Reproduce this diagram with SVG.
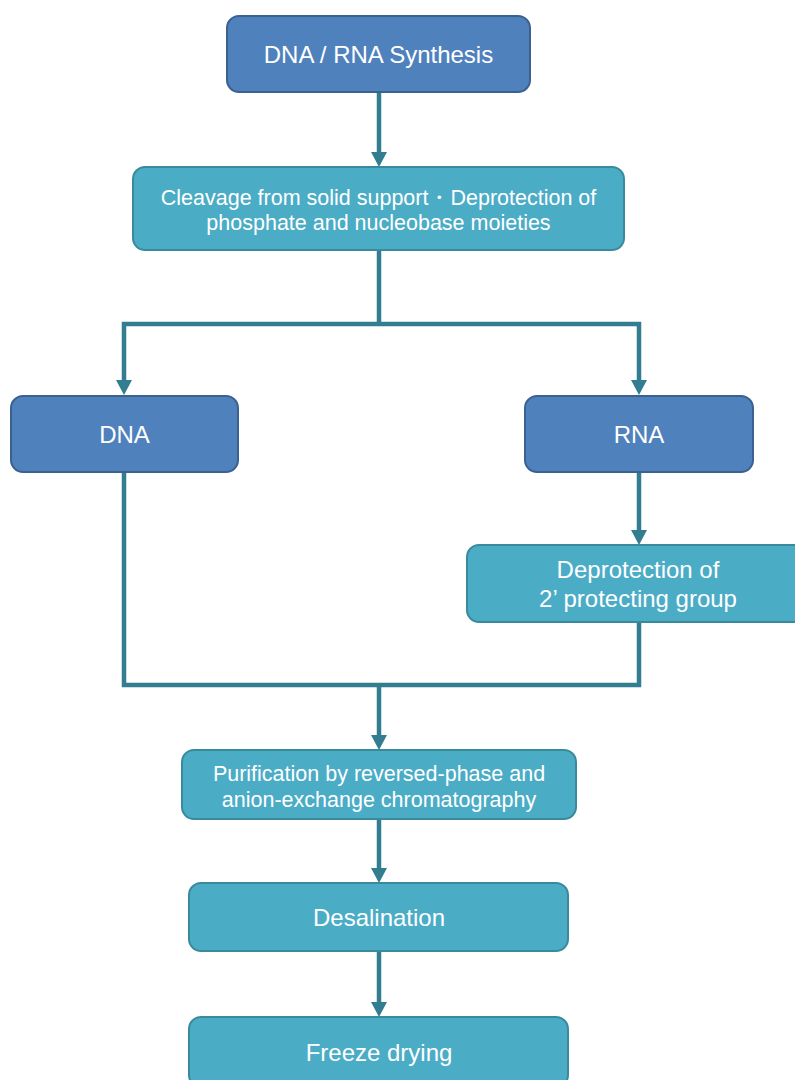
<svg xmlns="http://www.w3.org/2000/svg" width="795" height="1080" viewBox="0 0 795 1080">
<style>
.blue{fill:#4F81BD;stroke:#3A6190;stroke-width:2}
.teal{fill:#4BACC6;stroke:#3A8A9E;stroke-width:2}
.t{font-family:"Liberation Sans",Arial,sans-serif;fill:#FFFFFF;text-anchor:middle}
.big{font-size:24px}
.sm{font-size:21.5px}
.c{fill:none;stroke:#327D8F;stroke-width:4.5;stroke-linejoin:miter}
</style>
<defs>
<marker id="ah" markerUnits="userSpaceOnUse" markerWidth="16" markerHeight="16" refX="0" refY="8" orient="auto" overflow="visible">
<path d="M0,0 L15,8 L0,16 Z" fill="#327D8F"/>
</marker>
</defs>
<rect width="795" height="1080" fill="#FFFFFF"/>
<g id="connectors">
<path class="c" d="M379,92 V152" marker-end="url(#ah)"/>
<path class="c" d="M379,250 V324"/>
<path class="c" d="M379,324 H124 V380" marker-end="url(#ah)"/>
<path class="c" d="M379,324 H639 V380" marker-end="url(#ah)"/>
<path class="c" d="M639,472 V530" marker-end="url(#ah)"/>
<path class="c" d="M124,472 V685 H379"/>
<path class="c" d="M639,622 V685 H379"/>
<path class="c" d="M379,685 V735" marker-end="url(#ah)"/>
<path class="c" d="M379,819 V868" marker-end="url(#ah)"/>
<path class="c" d="M379,951 V1002" marker-end="url(#ah)"/>
</g>
<g id="n-synthesis">
<rect class="blue" x="227" y="16" width="303" height="76" rx="12"/>
<text class="t big" x="378.5" y="62.5">DNA / RNA Synthesis</text>
</g>
<g id="n-cleavage">
<rect class="teal" x="133" y="167" width="491" height="83" rx="12"/>
<text class="t sm" x="378.5" y="205">Cleavage from solid support・Deprotection of</text>
<text class="t sm" x="378.5" y="230">phosphate and nucleobase moieties</text>
</g>
<g id="n-dna">
<rect class="blue" x="11" y="396" width="227" height="76" rx="12"/>
<text class="t big" x="124.5" y="442.5">DNA</text>
</g>
<g id="n-rna">
<rect class="blue" x="525" y="396" width="228" height="76" rx="12"/>
<text class="t big" x="639" y="442.5">RNA</text>
</g>
<g id="n-deprotection">
<rect class="teal" x="467" y="545" width="360" height="77" rx="12"/>
<text class="t big" x="638" y="578">Deprotection of</text>
<text class="t big" x="638" y="607">2’ protecting group</text>
</g>
<g id="n-purification">
<rect class="teal" x="182" y="750" width="394" height="69" rx="12"/>
<text class="t sm" x="379" y="781">Purification by reversed-phase and</text>
<text class="t sm" x="379" y="806.5">anion-exchange chromatography</text>
</g>
<g id="n-desalination">
<rect class="teal" x="189" y="883" width="379" height="68" rx="12"/>
<text class="t big" x="379" y="925.5">Desalination</text>
</g>
<g id="n-freeze">
<rect class="teal" x="189" y="1017" width="379" height="70" rx="12"/>
<text class="t big" x="379" y="1060.5">Freeze drying</text>
</g>
</svg>
